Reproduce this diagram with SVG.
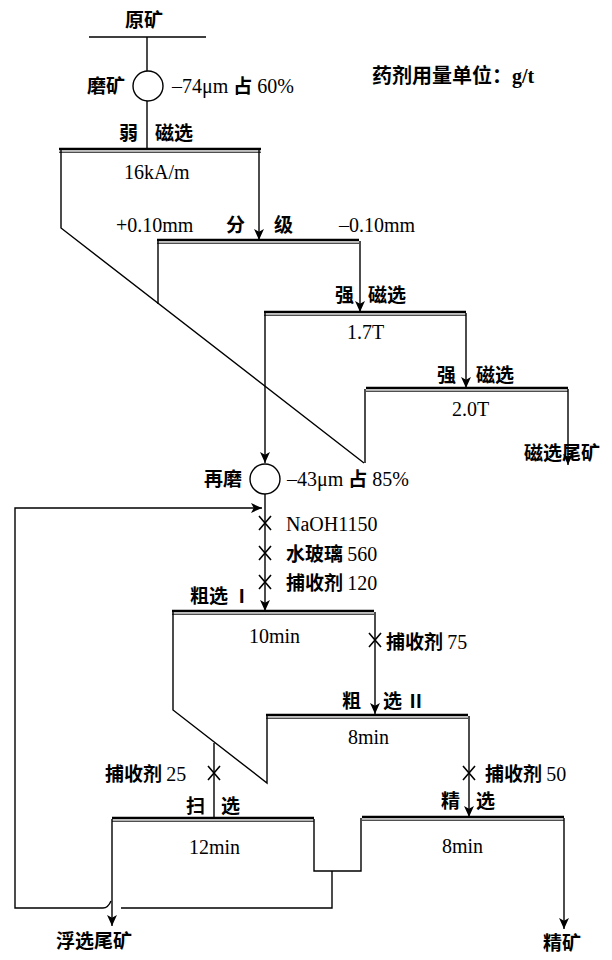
<svg xmlns="http://www.w3.org/2000/svg" width="612" height="960" viewBox="0 0 612 960">
<style>
.ln{fill:none;stroke:#000;stroke-width:1.4}
.bt{fill:none;stroke:#000;stroke-width:2.6}
.bn{fill:none;stroke:#000;stroke-width:1}
.cn{font-family:"Noto Sans CJK SC","Liberation Serif",serif;font-size:19px;font-weight:bold;fill:#000}
.en{font-family:"Liberation Serif","Noto Sans CJK SC",serif;font-size:20px;fill:#000}
.xm{fill:none;stroke:#000;stroke-width:1.6}
</style>
<defs>
<marker id="ah" viewBox="0 0 10 10" refX="10" refY="5" markerWidth="11" markerHeight="11" markerUnits="userSpaceOnUse" orient="auto">
<path d="M0,0.5 L10,5 L0,9.5 L2.5,5 Z" fill="#000"/>
</marker>
<g id="bar200">
<line class="bt" x1="0" y1="0" x2="202" y2="0"/>
<line class="bn" x1="0" y1="3.2" x2="202" y2="3.2"/>
</g>
<path id="xx" class="xm" d="M-6,-7 L6,7 M6,-7 L-6,7"/>
</defs>
<rect width="612" height="960" fill="#fff"/>

<g id="connectors">
<path class="ln" d="M89,37 H206 M147,37 V71"/>
<path class="ln" d="M147,101 V149"/>
<path class="ln" d="M61,150 V228 L364,463"/>
<path class="ln" d="M259,150 V240" marker-end="url(#ah)"/>
<path class="ln" d="M158,241 V304"/>
<path class="ln" d="M360,241 V312" marker-end="url(#ah)"/>
<path class="ln" d="M265,313 V463" marker-end="url(#ah)"/>
<path class="ln" d="M466,313 V388" marker-end="url(#ah)"/>
<path class="ln" d="M365,389 V463"/>
<path class="ln" d="M568,389 V465" marker-end="url(#ah)"/>
<path class="ln" d="M265,494 V611" marker-end="url(#ah)"/>
<path class="ln" d="M332,871 V908 H121"/>
<path class="ln" d="M111,901 Q108,908 103,908 H15 V508 H262" marker-end="url(#ah)"/>
<path class="ln" d="M112,819 V926" marker-end="url(#ah)"/>
<path class="ln" d="M314,819 V871 H361 V818"/>
<path class="ln" d="M173,612 V710 L267,783 V716"/>
<path class="ln" d="M214,743 V819"/>
<path class="ln" d="M375,612 V714" marker-end="url(#ah)"/>
<path class="ln" d="M469,716 V817" marker-end="url(#ah)"/>
<path class="ln" d="M564,818 V929" marker-end="url(#ah)"/>
<use href="#xx" x="265" y="523"/>
<use href="#xx" x="265" y="553"/>
<use href="#xx" x="265" y="582"/>
<use href="#xx" x="375" y="640"/>
<use href="#xx" x="469" y="773"/>
<use href="#xx" x="214" y="773"/>
</g>

<g id="feed">
<text class="cn" x="125" y="27">原矿</text>
</g>

<g id="note">
<text class="cn" x="372" y="83" style="font-size:20px">药剂用量单位：<tspan class="en" style="font-weight:bold">g/t</tspan></text>
</g>

<g id="grinding">
<circle cx="148" cy="86" r="15" fill="#fff" stroke="#000" stroke-width="1.4"/>
<text class="cn" x="87" y="93">磨矿</text>
<text class="en" x="172" y="93">–74μm <tspan class="cn" style="font-weight:bold">占</tspan> 60%</text>
</g>

<g id="weak-mag">
<use href="#bar200" x="59" y="149"/>
<text class="cn" x="119" y="140">弱</text>
<text class="cn" x="155" y="140">磁选</text>
<text class="en" x="124" y="179">16kA/m</text>
</g>

<g id="classify">
<use href="#bar200" x="157" y="240"/>
<text class="en" x="116" y="232">+0.10mm</text>
<text class="cn" x="226" y="232">分</text>
<text class="cn" x="274" y="232">级</text>
<text class="en" x="339" y="232">–0.10mm</text>
</g>

<g id="strong-mag-1">
<use href="#bar200" x="264" y="312"/>
<text class="cn" x="335" y="302">强</text>
<text class="cn" x="368" y="302">磁选</text>
<text class="en" x="347" y="339">1.7T</text>
</g>

<g id="strong-mag-2">
<use href="#bar200" x="366" y="388"/>
<text class="cn" x="437" y="382">强</text>
<text class="cn" x="476" y="382">磁选</text>
<text class="en" x="452" y="416">2.0T</text>
</g>

<g id="mag-tail">
<text class="cn" x="524" y="460">磁选尾矿</text>
</g>

<g id="regrind">
<circle cx="265" cy="479" r="15" fill="#fff" stroke="#000" stroke-width="1.4"/>
<text class="cn" x="204" y="486">再磨</text>
<text class="en" x="287" y="486">–43μm <tspan class="cn" style="font-weight:bold">占</tspan> 85%</text>
<text class="en" x="286" y="531">NaOH1150</text>
<text class="cn" x="286" y="561">水玻璃 <tspan class="en" style="font-weight:normal">560</tspan></text>
<text class="cn" x="286" y="590">捕收剂 <tspan class="en" style="font-weight:normal">120</tspan></text>
</g>

<g id="rougher-1">
<use href="#bar200" x="172" y="611"/>
<text class="cn" x="190" y="603">粗选 Ⅰ</text>
<text class="en" x="249" y="643">10min</text>
<text class="cn" x="386" y="649">捕收剂 <tspan class="en" style="font-weight:normal">75</tspan></text>
</g>

<g id="rougher-2">
<use href="#bar200" x="266" y="715"/>
<text class="cn" x="342" y="708">粗</text>
<text class="cn" x="383" y="708">选 Ⅱ</text>
<text class="en" x="348" y="744">8min</text>
<text class="cn" x="485" y="781">捕收剂 <tspan class="en" style="font-weight:normal">50</tspan></text>
</g>

<g id="scavenger">
<use href="#bar200" x="112" y="818"/>
<text class="cn" x="105" y="781">捕收剂 <tspan class="en" style="font-weight:normal">25</tspan></text>
<text class="cn" x="186" y="813">扫</text>
<text class="cn" x="221" y="813">选</text>
<text class="en" x="189" y="854">12min</text>
</g>

<g id="cleaner">
<use href="#bar200" x="362" y="817"/>
<text class="cn" x="441" y="808">精</text>
<text class="cn" x="476" y="808">选</text>
<text class="en" x="442" y="853">8min</text>
</g>

<g id="flot-tail">
<text class="cn" x="56" y="948">浮选尾矿</text>
</g>

<g id="concentrate">
<text class="cn" x="543" y="950">精矿</text>
</g>
</svg>
